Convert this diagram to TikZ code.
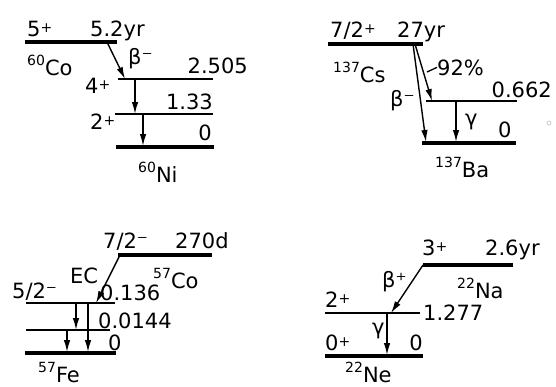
\documentclass[tikz,border=0pt]{standalone}
\usepackage{fontspec}
\setmainfont{DejaVu Sans}
\usetikzlibrary{arrows.meta}
\newcommand{\iso}[2]{\raisebox{9.5pt}{\fontsize{14}{14}\selectfont #1}#2}
\newcommand{\pls}{\raisebox{3.5pt}{\fontsize{14}{14}\selectfont +}}

\begin{document}
\begin{tikzpicture}[x=1pt, y=-1pt, font=\fontsize{21}{21}\selectfont,
  lvl/.style={line width=1.3pt}, gnd/.style={line width=3.8pt},
  trans/.style={line width=1.4pt, -{Latex[length=12pt,width=6.5pt]}},
  lbl/.style={inner sep=0pt, anchor=base west}, lblr/.style={inner sep=0pt, anchor=base east}]
  \useasboundingbox (0,0) rectangle (556,386);
  % 60Co -> 60Ni
  \draw[gnd] (25,42) -- (117,42);
  \draw[lvl] (118,79) -- (213,79);
  \draw[lvl] (115,114) -- (213,114);
  \draw[gnd] (116,147) -- (214,147);
  \coordinate (cobs) at (107,42); \coordinate (cobe) at (125,79);
  \coordinate (niga) at (135,79); \coordinate (nigb) at (135,114);
  \coordinate (nigc) at (143,114); \coordinate (nigd) at (143,146);
  \draw[trans] (cobs) -- (cobe);
  \draw[trans] (niga) -- (nigb);
  \draw[trans] (nigc) -- (nigd);
  \node[lbl] (cospin) at (27,36) {5\pls};
  \node[lbl] (colife) at (90,36) {5.2yr};
  \node[lbl] (coname) at (27,75) {\iso{60}{Co}};
  \node[lbl] (cobeta) at (128,64) {β⁻};
  \node[lblr] (nitop) at (248,73) {2.505};
  \node[lbl] (nispina) at (85,93) {4\pls};
  \node[lblr] (nimid) at (213,109) {1.33};
  \node[lbl] (nispinb) at (90,129) {2\pls};
  \node[lblr] (nigrd) at (212,140) {0};
  \node[lbl] (niname) at (138,182) {\iso{60}{Ni}};
  % 137Cs -> 137Ba
  \draw[gnd] (328,44) -- (423,44);
  \draw[lvl] (426,101) -- (517,101);
  \draw[gnd] (422,143) -- (516,143);
  \coordinate (csbs) at (413,44); \coordinate (csbe) at (426,142);
  \coordinate (csms) at (415,44); \coordinate (csme) at (432,101);
  \coordinate (baga) at (456,101); \coordinate (bagb) at (456,142);
  \coordinate (cslead) at (427,72);
  \draw[trans] (csbs) -- (csbe);
  \draw[trans] (csms) -- (csme);
  \draw[trans] (baga) -- (bagb);
  \node[lbl] (csspin) at (330,37) {7/2\pls};
  \node[lbl] (cslife) at (397,37) {27yr};
  \node[lbl] (csname) at (333,82) {\iso{137}{Cs}};
  \node[lbl] (csfrac) at (437,75) {92\%};
  \draw[lvl] (cslead) -- (csfrac.west);
  \node[lbl] (csbeta) at (390,106) {β⁻};
  \node[lblr] (batop) at (552,97) {0.662};
  \node[lbl] (bagam) at (465,125) {γ};
  \node[lbl] (bagrd) at (498,137) {0};
  \node[lbl] (baname) at (435,177) {\iso{137}{Ba}};
  \draw[gray!50, line width=0.6pt] (549,123) circle (2);
  % 57Co -> 57Fe
  \draw[gnd] (118,255) -- (212,255);
  \draw[lvl] (26,303) -- (115,303);
  \draw[lvl] (26,330) -- (110,330);
  \draw[gnd] (25,353) -- (116,353);
  \coordinate (coecs) at (120,255); \coordinate (coece) at (96,303);
  \coordinate (fega) at (76,303); \coordinate (fegb) at (76,330);
  \coordinate (fegc) at (88,303); \coordinate (fegd) at (88,352);
  \coordinate (fege) at (67,330); \coordinate (fegf) at (67,352);
  \draw[trans] (coecs) -- (coece);
  \draw[trans] (fega) -- (fegb);
  \draw[trans] (fegc) -- (fegd);
  \draw[trans] (fege) -- (fegf);
  \node[lbl] (cbspin) at (103,248) {7/2⁻};
  \node[lbl] (cblife) at (175,248) {270d};
  \node[lbl] (cbname) at (153,288) {\iso{57}{Co}};
  \node[lbl] (feec) at (70,283) {EC};
  \node[lbl] (fespin) at (12,298) {5/2⁻};
  \node[lbl] (fetop) at (100,300) {0.136};
  \node[lbl] (femid) at (98,328) {0.0144};
  \node[lbl] (fegrd) at (108,350) {0};
  \node[lbl] (fename) at (38,382) {\iso{57}{Fe}};
  % 22Na -> 22Ne
  \draw[gnd] (423,265) -- (513,265);
  \draw[lvl] (325,313) -- (420,313);
  \draw[gnd] (325,356) -- (423,356);
  \coordinate (nabs) at (423,265); \coordinate (nabe) at (391,313);
  \coordinate (nega) at (387,313); \coordinate (negb) at (387,355);
  \draw[trans] (nabs) -- (nabe);
  \draw[trans] (nega) -- (negb);
  \node[lbl] (naspin) at (422,255) {3\pls};
  \node[lbl] (nalife) at (485,255) {2.6yr};
  \node[lbl] (naname) at (457,298) {\iso{22}{Na}};
  \node[lbl] (nabeta) at (382,287) {β⁺};
  \node[lbl] (nespina) at (325,307) {2\pls};
  \node[lbl] (netop) at (423,320) {1.277};
  \node[lbl] (negam) at (372,334) {γ};
  \node[lbl] (nespinb) at (325,350) {0\pls};
  \node[lblr] (negrd) at (423,350) {0};
  \node[lbl] (nename) at (345,382) {\iso{22}{Ne}};
\end{tikzpicture}
\end{document}
